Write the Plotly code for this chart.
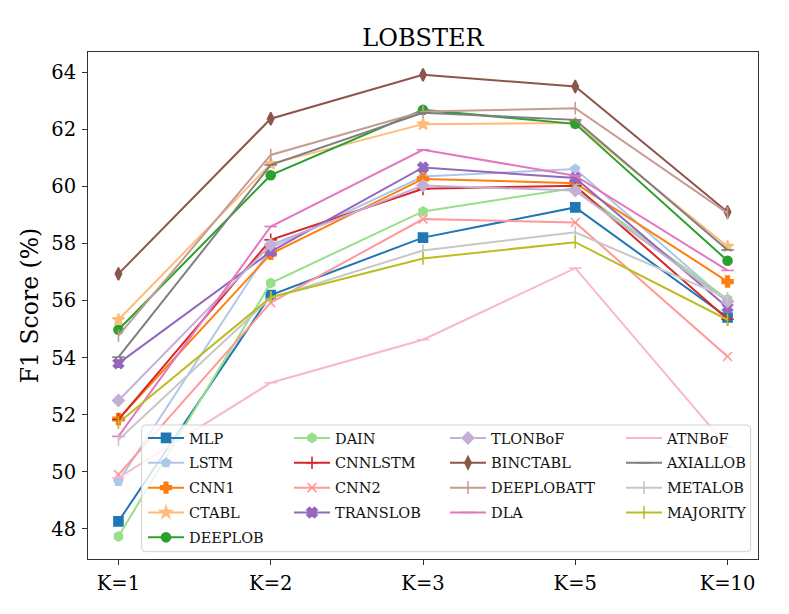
import plotly.graph_objects as go

# horizons on the x axis
horizons = ["K=1", "K=2", "K=3", "K=5", "K=10"]

# F1 scores (%), one list per model
mlp = [48.26, 56.20, 58.21, 59.27, 55.41]
lstm = [49.66, 57.85, 60.35, 60.62, 55.96]
cnn1 = [51.85, 57.64, 60.27, 60.12, 56.67]
ctabl = [55.33, 60.80, 62.19, 62.23, 57.90]
deeplob = [54.98, 60.40, 62.69, 62.20, 57.40]
dain = [47.73, 56.62, 59.13, 59.95, 56.05]
cnnlstm = [51.83, 58.13, 59.92, 60.03, 55.35]
cnn2 = [49.90, 55.93, 58.86, 58.74, 54.04]
translob = [53.80, 57.72, 60.67, 60.30, 55.76]
tlonbof = [52.50, 57.96, 60.04, 59.86, 55.97]
binctabl = [56.94, 62.38, 63.92, 63.51, 59.11]
deeplobatt = [54.77, 61.11, 62.63, 62.75, 59.07]
dla = [51.24, 58.60, 61.29, 60.38, 57.06]
atnbof = [49.79, 53.12, 54.63, 57.14, 50.88]
axiallob = [54.02, 60.76, 62.59, 62.34, 57.78]
metalob = [51.12, 56.10, 57.76, 58.40, 56.09]
majority = [51.72, 56.12, 57.48, 58.05, 55.33]

FONT = "DejaVu Serif, serif"

# name, values, tab20 colour, marker symbol, legend column
models = [
    ("MLP", mlp, "#1f77b4", "square", "legend"),
    ("LSTM", lstm, "#aec7e8", "pentagon", "legend"),
    ("CNN1", cnn1, "#ff7f0e", "cross", "legend"),
    ("CTABL", ctabl, "#ffbb78", "star", "legend"),
    ("DEEPLOB", deeplob, "#2ca02c", "circle", "legend"),
    ("DAIN", dain, "#98df8a", "hexagon", "legend2"),
    ("CNNLSTM", cnnlstm, "#d62728", "cross-thin-open", "legend2"),
    ("CNN2", cnn2, "#ff9896", "x-thin-open", "legend2"),
    ("TRANSLOB", translob, "#9467bd", "x", "legend2"),
    ("TLONBoF", tlonbof, "#c5b0d5", "diamond", "legend3"),
    ("BINCTABL", binctabl, "#8c564b", "diamond-tall", "legend3"),
    ("DEEPLOBATT", deeplobatt, "#c49c94", "line-ns-open", "legend3"),
    ("DLA", dla, "#e377c2", "line-ew-open", "legend3"),
    ("ATNBoF", atnbof, "#f7b6d2", "line-ew-open", "legend4"),
    ("AXIALLOB", axiallob, "#7f7f7f", "line-ew-open", "legend4"),
    ("METALOB", metalob, "#c7c7c7", "line-ns-open", "legend4"),
    ("MAJORITY", majority, "#bcbd22", "line-ns-open", "legend4"),
]

fig = go.Figure()
for name, vals, color, symbol, leg in models:
    fig.add_trace(go.Scatter(
        x=horizons, y=vals, name=name, mode="lines+markers",
        line=dict(color=color, width=2),
        marker=dict(symbol=symbol, size=9, color=color,
                    line=dict(width=1.6, color=color)),
        legend=leg, legendgroup=name,
    ))

# the page body adds 8px, so the figure is 781x606 and the
# plot area sits at x 80..750, y 44..551 inside it
def legend_cfg(px_left):
    return dict(
        x=(px_left - 88) / 670, y=(559 - 422) / 507,
        xanchor="left", yanchor="top",
        bgcolor="rgba(0,0,0,0)", borderwidth=0,
        font=dict(family=FONT, size=14.5, color="#111"),
        tracegroupgap=3, itemwidth=36,
    )

# rounded legend frame shared by the four columns
x0, x1, y0, y1 = 0.0801, 0.989, 0.0144, 0.2643
rx, ry = 4 / 670, 4 / 507
frame = (f"M{x0+rx},{y0} L{x1-rx},{y0} Q{x1},{y0} {x1},{y0+ry} "
         f"L{x1},{y1-ry} Q{x1},{y1} {x1-rx},{y1} "
         f"L{x0+rx},{y1} Q{x0},{y1} {x0},{y1-ry} "
         f"L{x0},{y0+ry} Q{x0},{y0} {x0+rx},{y0} Z")

fig.update_layout(
    width=781, height=606,
    margin=dict(l=80, r=31, t=44, b=55),
    paper_bgcolor="white", plot_bgcolor="white",
    font=dict(family=FONT, color="black"),
    title=dict(text="LOBSTER", x=0.5, xref="paper", y=1 - 30 / 606,
               yanchor="middle", font=dict(family=FONT, size=24, color="black")),
    xaxis=dict(type="category", range=[-0.2, 4.2], showgrid=False,
               showline=True, linecolor="#333", linewidth=1, mirror=True,
               ticks="outside", ticklen=5, tickcolor="#333",
               ticklabelstandoff=2,
               tickfont=dict(family=FONT, size=19.5, color="black")),
    yaxis=dict(range=[46.94, 64.72], dtick=2, showgrid=False, zeroline=False,
               showline=True, linecolor="#333", linewidth=1, mirror=True,
               ticks="outside", ticklen=5, tickcolor="#333",
               ticklabelstandoff=2,
               tickfont=dict(family=FONT, size=19.5, color="black"),
               title=dict(text="F1 Score (%)", standoff=6,
                          font=dict(family=FONT, size=23.5, color="black"))),
    shapes=[dict(type="path", path=frame, xref="paper", yref="paper",
                 fillcolor="rgba(255,255,255,0.8)",
                 line=dict(color="#d0d0d0", width=1), layer="above")],
    legend=legend_cfg(143),
    legend2=legend_cfg(289),
    legend3=legend_cfg(445),
    legend4=legend_cfg(621),
)

fig.write_html("out.html")
